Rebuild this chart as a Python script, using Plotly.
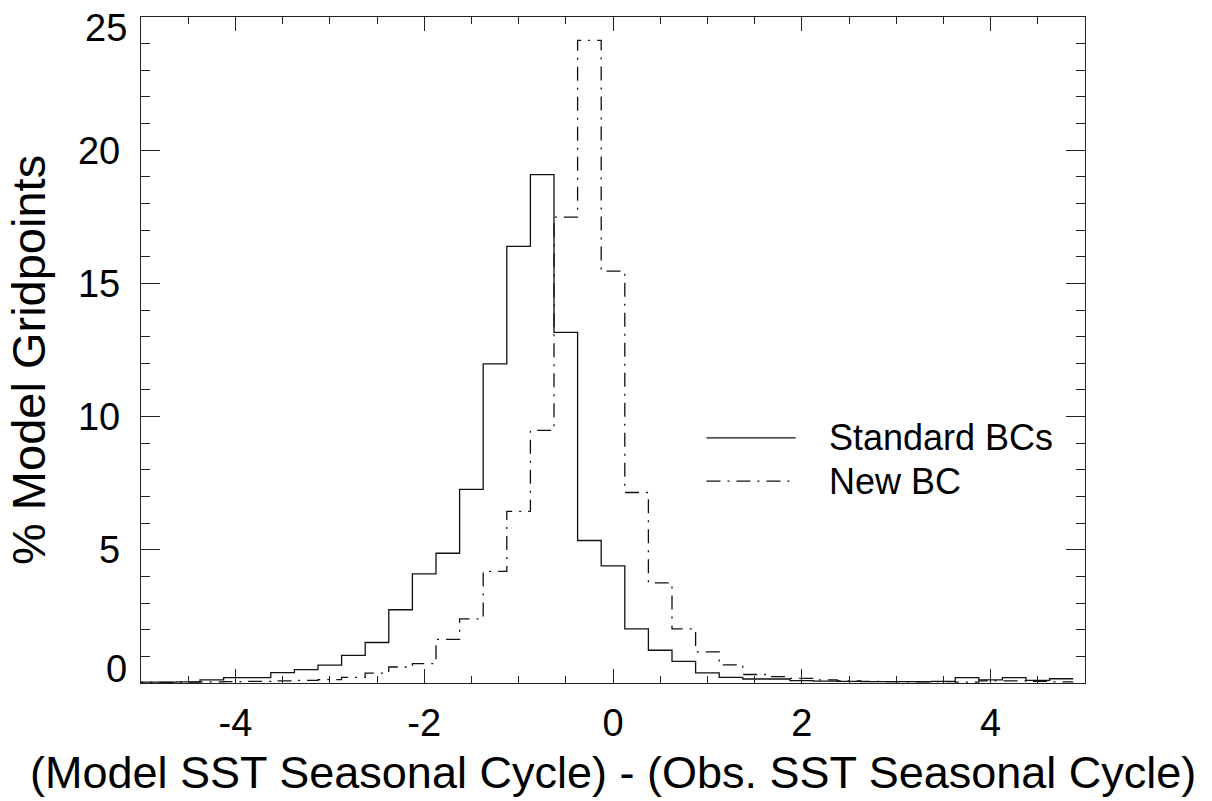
import plotly.graph_objects as go

# Bin centres (0.25-wide bins) of the SST seasonal-cycle difference
bin_centres = [-5.0 + 0.25 * i for i in range(40)]

# Percentage of model gridpoints per bin
standard_bcs = [
    0.03, 0.03, 0.04, 0.12, 0.20, 0.20, 0.39, 0.50, 0.67, 1.04,
    1.52, 2.75, 4.10, 4.87, 7.27, 11.98, 16.39, 19.08, 13.16, 5.35,
    4.40, 2.03, 1.23, 0.81, 0.38, 0.21, 0.15, 0.15, 0.09, 0.07,
    0.06, 0.05, 0.05, 0.05, 0.06, 0.20, 0.12, 0.20, 0.10, 0.16,
]
new_bc = [
    0.02, 0.02, 0.03, 0.04, 0.05, 0.06, 0.08, 0.10, 0.13, 0.21,
    0.37, 0.60, 0.73, 1.64, 2.41, 4.19, 6.44, 9.48, 17.49, 24.12,
    15.46, 7.15, 3.76, 2.03, 1.17, 0.68, 0.32, 0.24, 0.17, 0.12,
    0.08, 0.06, 0.05, 0.04, 0.05, 0.03, 0.08, 0.08, 0.06, 0.04,
]

x_ticks = [-4, -2, 0, 2, 4]
y_ticks = [0, 5, 10, 15, 20, 25]

series_names = ["Standard BCs", "New BC"]
x_title = "(Model SST Seasonal Cycle) - (Obs. SST Seasonal Cycle)"
y_title = "% Model Gridpoints"

FONT = "Liberation Sans, Arial, Helvetica, sans-serif"
DASHDOT = "14px,7px,2px,7px"
half = 0.125


def step_xy(centres, values):
    # histogram-style steps: extend half a bin beyond the first and last centre
    xs = [centres[0] - half] + list(centres) + [centres[-1] + half]
    ys = [values[0]] + list(values) + [values[-1]]
    return xs, ys


fig = go.Figure()
for name, vals, dash in [(series_names[0], standard_bcs, "solid"),
                         (series_names[1], new_bc, DASHDOT)]:
    xs, ys = step_xy(bin_centres, vals)
    fig.add_trace(go.Scatter(
        x=xs, y=ys, mode="lines", name=name,
        line=dict(shape="hvh", color="#111", width=1.3, dash=dash),
        showlegend=False, hoverinfo="skip",
    ))

axis_common = dict(
    showline=True, linecolor="#222", linewidth=1.3, mirror="ticks",
    ticks="inside", tickcolor="#222", tickwidth=1.3,
    showgrid=False, zeroline=False, automargin=False,
    tickfont=dict(family=FONT, size=38, color="#000"),
)

fig.update_xaxes(
    range=[-5, 5], tickmode="array", tickvals=x_ticks,
    ticktext=[str(v) for v in x_ticks], ticklen=14,
    minor=dict(dtick=0.5, ticks="inside", ticklen=7, tickcolor="#222",
               tickwidth=1.3, showgrid=False),
    ticklabelstandoff=6,
    **axis_common,
)
# interior labels come from the axis; the end labels are placed separately
inner_y = y_ticks[1:-1]
fig.update_yaxes(
    range=[0, 25], tickmode="array", tickvals=inner_y,
    ticktext=[str(v) for v in inner_y], ticklen=19,
    minor=dict(dtick=1, ticks="inside", ticklen=9, tickcolor="#222",
               tickwidth=1.3, showgrid=False),
    ticklabelstandoff=12,
    **axis_common,
)

annotations = [
    # end labels nudged inward so they stay within the plot height
    dict(text=str(y_ticks[0]), x=0, xref="paper", xanchor="right", xshift=-12,
         y=y_ticks[0], yref="y", yanchor="middle", yshift=14, showarrow=False,
         font=dict(family=FONT, size=38, color="#000")),
    dict(text=str(y_ticks[-1]), x=0, xref="paper", xanchor="right", xshift=-12,
         y=y_ticks[-1], yref="y", yanchor="middle", yshift=-11, showarrow=False,
         font=dict(family=FONT, size=38, color="#000")),
    dict(text=x_title, x=0.5, xref="paper", y=0, yref="paper",
         yanchor="middle", yshift=-89, showarrow=False,
         font=dict(family=FONT, size=45, color="#000")),
    dict(text=y_title, x=0, xref="paper", xanchor="center", xshift=-113,
         y=0.5, yref="paper", yshift=-10, textangle=-90, showarrow=False,
         font=dict(family=FONT, size=47, color="#000")),
]

# legend drawn as line samples with labels
legend_rows = [(0.368, "solid"), (0.303, DASHDOT)]
shapes = []
for (ypos, dash), label in zip(legend_rows, series_names):
    shapes.append(dict(type="line", xref="paper", yref="paper",
                       x0=0.599, x1=0.6935, y0=ypos, y1=ypos,
                       line=dict(color="#111", width=1.3, dash=dash)))
    annotations.append(dict(text=label, x=0.7267, xref="paper", xanchor="left",
                            y=ypos, yref="paper", yanchor="middle",
                            showarrow=False,
                            font=dict(family=FONT, size=36, color="#000")))

fig.update_layout(
    width=1212, height=801,
    margin=dict(l=141, r=127, t=17, b=118),
    paper_bgcolor="white", plot_bgcolor="white",
    annotations=annotations, shapes=shapes, showlegend=False,
)

fig.write_html("out.html")
